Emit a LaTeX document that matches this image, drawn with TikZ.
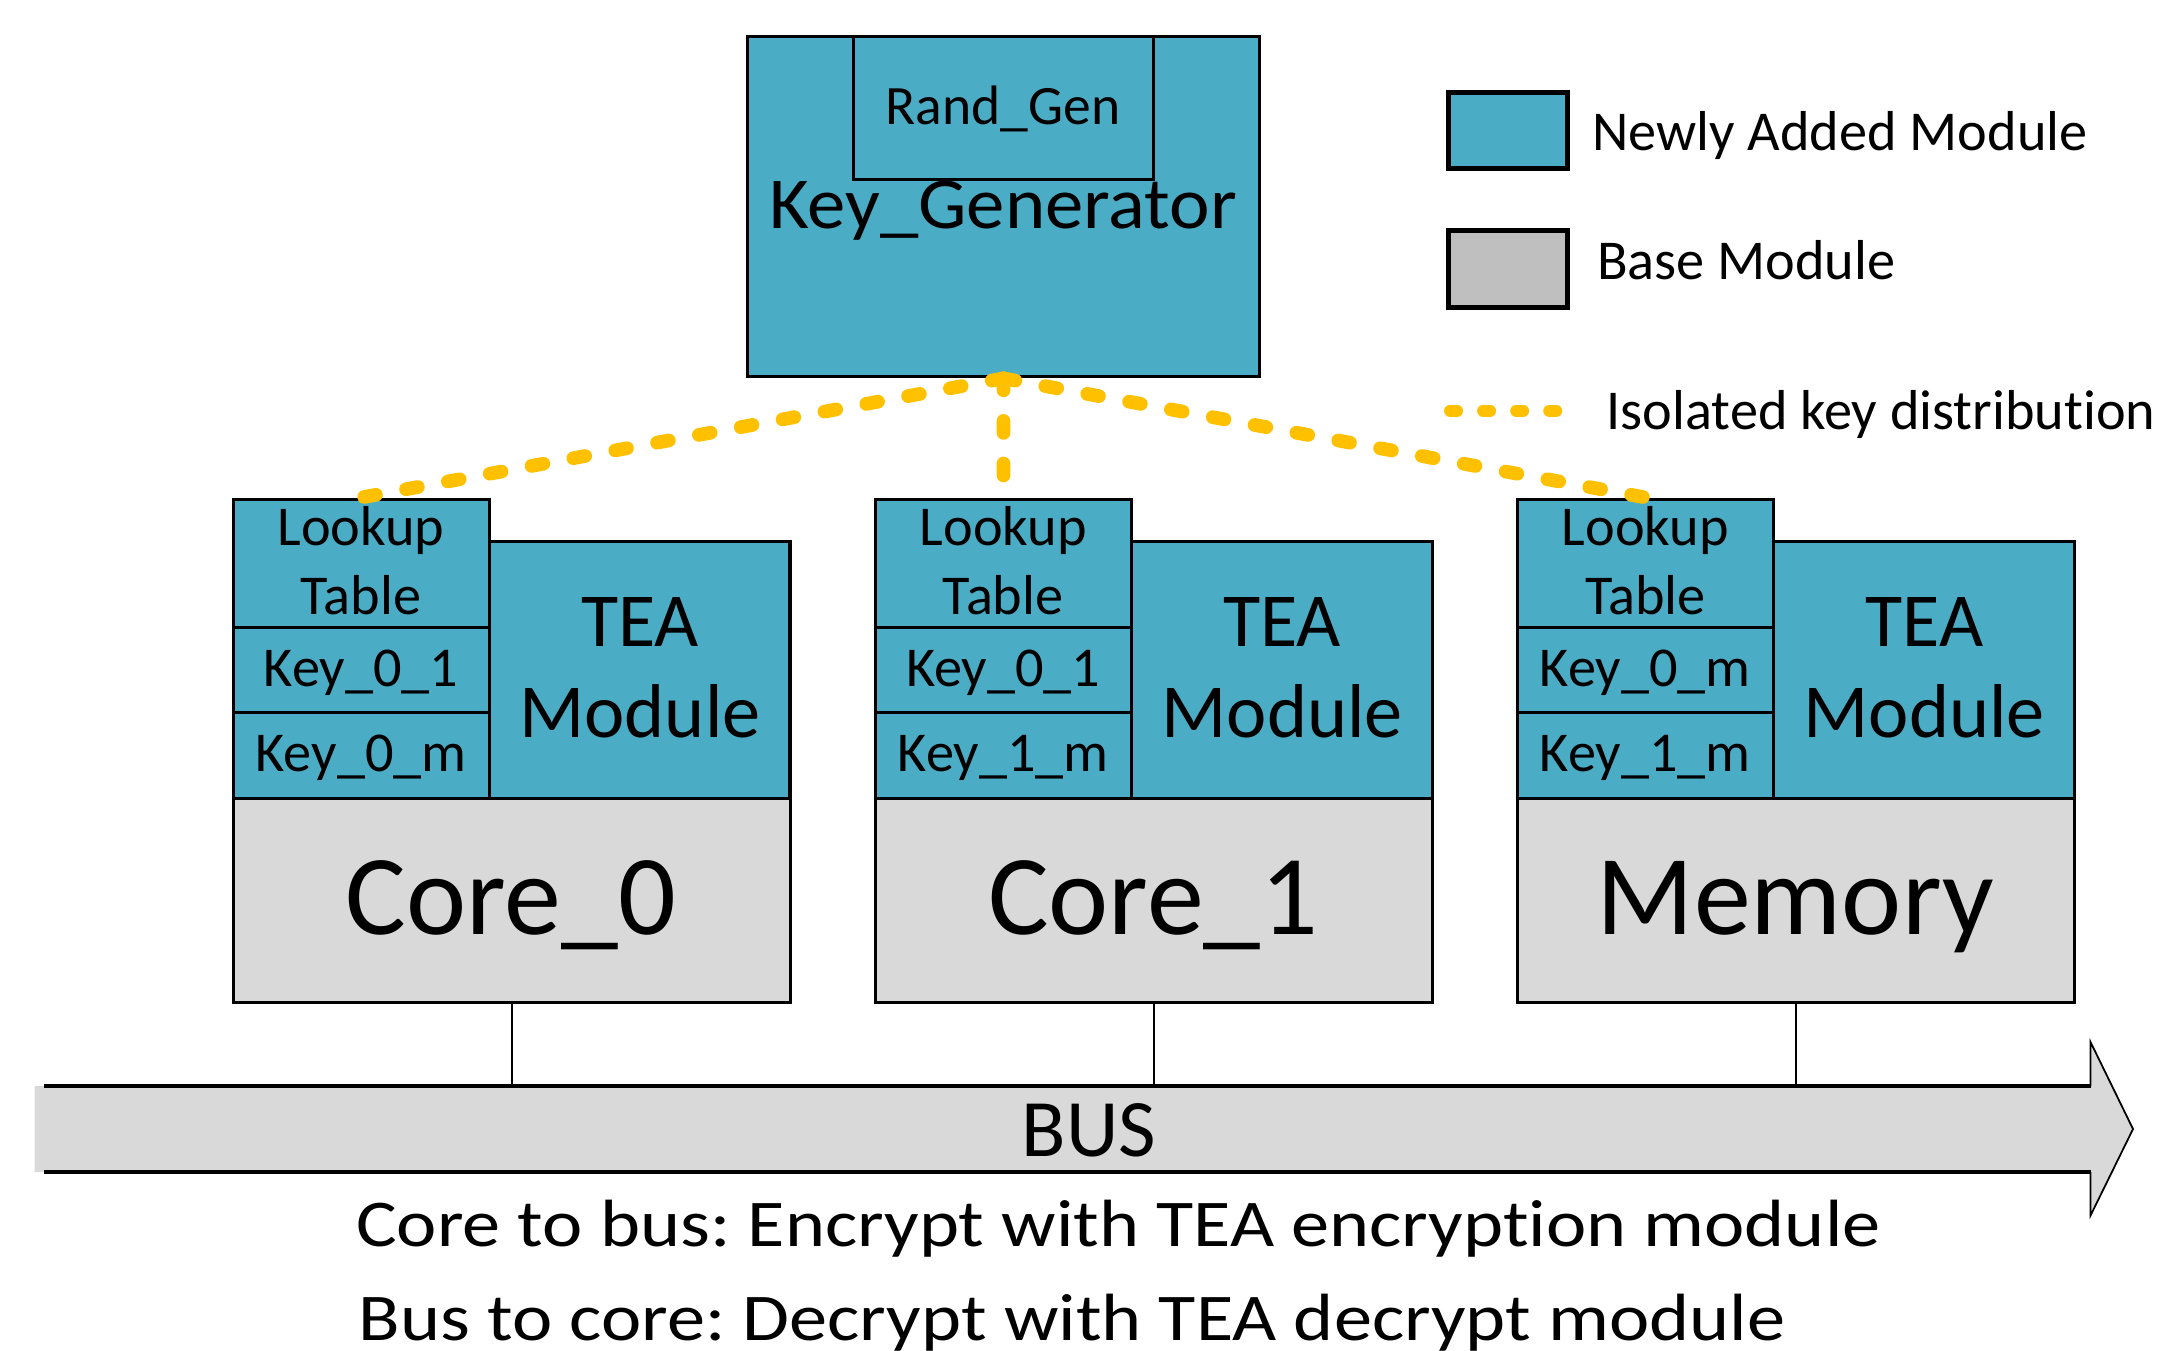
\documentclass[tikz,border=0pt]{standalone}
\usepackage{graphicx}
\usepackage{fontspec}
\setmainfont{Carlito}[Ligatures=NoCommon]
\frenchspacing
\definecolor{newblue}{HTML}{4BACC6}
\definecolor{coregray}{HTML}{D9D9D9}
\definecolor{leggray}{HTML}{BFBFBF}
\definecolor{keyyellow}{HTML}{FFC000}
\tikzset{
  blk/.style={draw=black, line width=0.9pt, fill=newblue, inner sep=0pt, anchor=north west},
  base/.style={draw=black, line width=0.9pt, fill=coregray, inner sep=0pt, anchor=north west},
  txt/.style={inner sep=0pt, anchor=base},
  keyline/.style={draw=keyyellow, line width=3.9pt, line cap=round, dash pattern=on 3.4pt off 8.7pt},
  legline/.style={draw=keyyellow, line width=3.4pt, line cap=round, dash pattern=on 2pt off 7.4pt},
  wire/.style={draw=black, line width=0.6pt},
}
\begin{document}
\begin{tikzpicture}[x=0.01cm,y=-0.01cm]
\useasboundingbox (0,0) rectangle (2161,1350);
% Key generator
\node[blk, minimum width=5.124cm, minimum height=3.405cm] (keygen) at (745.6,34.5) {};
\node[blk, minimum width=3.003cm, minimum height=1.433cm] (randgen) at (851.7,34.5) {};
\node[txt, font=\fontsize{15.8}{18}\selectfont] (randgentxt) at (1003,124) {Rand\_Gen};
\node[txt, font=\fontsize{20.8}{24}\selectfont] (keygentxt) at (1003,228.3) {\scalebox{1.05}[1]{Key\_Generator}};
% Columns
\foreach \i/\dx/\ka/\kb/\core in {1/0/Key\_0\_1/Key\_0\_m/Core\_0, 2/642.2/Key\_0\_1/Key\_1\_m/Core\_1, 3/1284.3/Key\_0\_m/Key\_1\_m/Memory}{
  \node[blk, minimum width=2.563cm, minimum height=1.281cm] (lut\i) at (231.5+\dx,497.5) {};
  \node[blk, minimum width=2.563cm, minimum height=0.854cm] (ka\i) at (231.5+\dx,625.6) {};
  \node[blk, minimum width=2.563cm, minimum height=0.855cm] (kb\i) at (231.5+\dx,711) {};
  \node[blk, minimum width=3.004cm, minimum height=2.563cm] (tea\i) at (487.8+\dx,540.2) {};
  \node[base, minimum width=5.567cm, minimum height=2.039cm] (core\i) at (231.5+\dx,796.5) {};
  \node[txt, font=\fontsize{16}{18}\selectfont] (luta\i) at (361+\dx,545.7) {Lookup};
  \node[txt, font=\fontsize{16}{18}\selectfont] (lutb\i) at (361+\dx,614.6) {Table};
  \node[txt, font=\fontsize{16}{18}\selectfont] (kat\i) at (361+\dx,686) {\ka};
  \node[txt, font=\fontsize{16}{18}\selectfont] (kbt\i) at (361+\dx,771.8) {\kb};
  \node[txt, font=\fontsize{21.7}{24}\selectfont] (teaa\i) at (640+\dx,646.8) {TEA};
  \node[txt, font=\fontsize{21.7}{24}\selectfont] (teab\i) at (640+\dx,737.9) {Module};
  \node[txt, font=\fontsize{32.4}{36}\selectfont] (coret\i) at (511+\dx,934.3) {\core};
}
% key distribution
\draw[keyline] (keygen.south) -- (lut1.north);
\draw[keyline, shorten >=6pt] (keygen.south) -- (lut2.north);
\draw[keyline] (keygen.south) -- (lut3.north);
% Bus
\coordinate (bustop) at (0,1086);
\fill[coregray] (34.5,1086) -- (2090.5,1086) -- (2090.5,1042) -- (2133,1129) -- (2090.5,1215.5) -- (2090.5,1172) -- (34.5,1172) -- cycle;
\draw[line width=1pt] (44,1086) -- (2090.5,1086);
\draw[line width=1pt] (44,1172) -- (2090.5,1172);
\draw[line width=0.5pt] (2090.5,1086) -- (2090.5,1042) -- (2133,1129) -- (2090.5,1215.5) -- (2090.5,1172);
\node[txt, font=\fontsize{23.2}{26}\selectfont] (bus) at (1089,1156.7) {BUS};
\foreach \i in {1,2,3}{
  \draw[wire] (core\i.south) -- (core\i.south |- bustop);
}
\node[txt, anchor=base west, font=\fontsize{19}{22}\selectfont] (note1) at (355.6,1246.7) {\scalebox{1.142}[1]{Core to bus: Encrypt with TEA encryption module}};
\node[txt, anchor=base west, font=\fontsize{19}{22}\selectfont] (note2) at (358,1340) {\scalebox{1.142}[1]{Bus to core: Decrypt with TEA decrypt module}};
% Legend
\node[blk, line width=1.3pt, minimum width=1.19cm, minimum height=0.76cm] (legnew) at (1446,90) {};
\node[blk, line width=1.3pt, fill=leggray, minimum width=1.19cm, minimum height=0.77cm] (legbase) at (1446,228) {};
\coordinate (legl1) at (1450,410.7);
\coordinate (legl2) at (1562,410.7);
\draw[legline] (legl1) -- (legl2);
\node[txt, anchor=base west, font=\fontsize{16}{18}\selectfont] (legnewt) at (1591.7,150.7) {Newly Added Module};
\node[txt, anchor=base west, font=\fontsize{16}{18}\selectfont] (legbaset) at (1596.6,279) {Base Module};
\node[txt, anchor=base west, font=\fontsize{16}{18}\selectfont] (leglinet) at (1606,429) {Isolated key distribution};
\end{tikzpicture}
\end{document}
